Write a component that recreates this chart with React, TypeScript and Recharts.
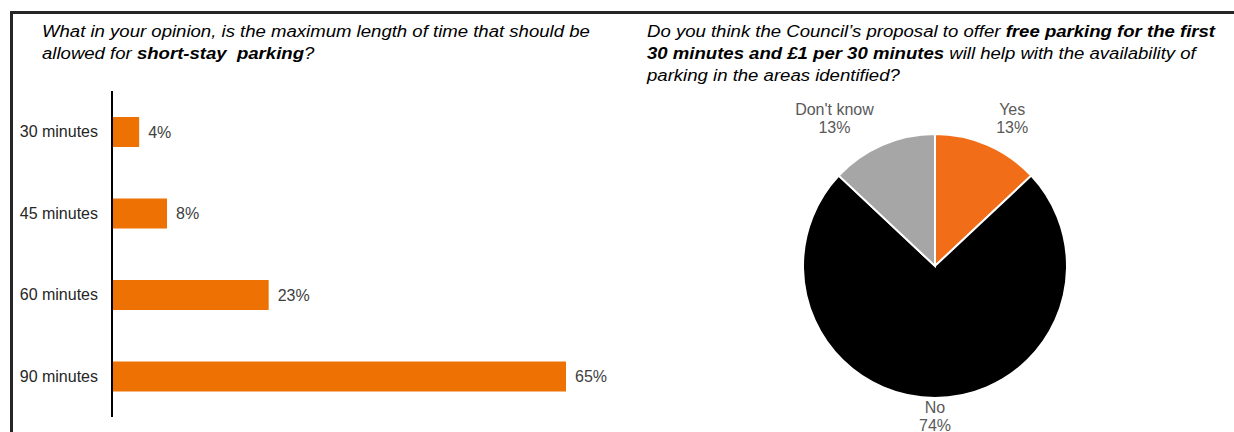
import React from 'react';
import { BarChart, Bar, XAxis, YAxis, LabelList, PieChart, Pie, Cell } from 'recharts';

const durationCategories = ['30 minutes', '45 minutes', '60 minutes', '90 minutes'];
const durationValues = [3.9, 7.9, 22.5, 65.2];
const durationLabels = ['4%', '8%', '23%', '65%'];

const answerCategories = ['Yes', 'No', "Don't know"];
const answerValues = [13, 74, 13];
const answerLabels = ['13%', '74%', '13%'];
const answerColors = ['#F26D17', '#000000', '#A6A6A6'];

const FONT = '"Liberation Sans", Arial, sans-serif';
const RADIAN = Math.PI / 180;

const barData = durationCategories.map((name, i) => ({
  name,
  value: durationValues[i],
  label: durationLabels[i],
}));

const pieData = answerCategories.map((name, i) => ({
  name,
  value: answerValues[i],
  label: answerLabels[i],
}));

let measureCtx: CanvasRenderingContext2D | null = null;
function measure(text: string): number {
  if (!measureCtx) {
    const c = document.createElement('canvas');
    measureCtx = c.getContext('2d');
  }
  if (!measureCtx) return text.length * 8.5;
  measureCtx.font = `16px ${FONT}`;
  return measureCtx.measureText(text).width;
}

function renderPieLabel(props: any) {
  const { cx, cy, midAngle, outerRadius, index } = props;
  const name = answerCategories[index];
  const pct = answerLabels[index];
  const dx = Math.cos(midAngle * RADIAN);
  const dy = -Math.sin(midAngle * RADIAN);
  const side = Math.abs(dx) > 0.2;
  const R = outerRadius + (side ? 12 : 3);
  const px = cx + R * dx;
  const py = cy + R * dy;
  const halfW = Math.max(measure(name), measure(pct)) / 2 + 4;
  const halfH = 15;
  const x = px + (dx > 0.2 ? halfW : dx < -0.2 ? -halfW : 0);
  const y = py + (dy < 0 ? -halfH : halfH);
  return (
    <text
      x={x}
      y={y}
      textAnchor="middle"
      fill="#595959"
      fontSize={16}
      fontFamily={FONT}
    >
      <tspan x={x} y={y - 9} dominantBaseline="central">{name}</tspan>
      <tspan x={x} y={y + 9} dominantBaseline="central">{pct}</tspan>
    </text>
  );
}

const titleStyle: React.CSSProperties = {
  position: 'absolute',
  top: 21,
  fontSize: 16,
  lineHeight: '22px',
  fontStyle: 'italic',
  color: '#000',
  whiteSpace: 'pre',
  transform: 'scaleX(1.16)',
  transformOrigin: 'left top',
};

export default function App() {
  return (
    <div
      style={{
        position: 'absolute',
        left: 0,
        top: 0,
        width: 1234,
        height: 432,
        background: '#fff',
        overflow: 'hidden',
        fontFamily: FONT,
      }}
    >
      {/* frame */}
      <div style={{ position: 'absolute', left: 10, top: 11, width: 1224, height: 3, background: '#262626' }} />
      <div style={{ position: 'absolute', left: 10, top: 11, width: 3, height: 421, background: '#262626' }} />

      {/* left title */}
      <div style={{ ...titleStyle, left: 42 }}>
        What in your opinion, is the maximum length of time that should be
        <br />
        allowed for <b>short-stay  parking</b>?
      </div>

      {/* right title */}
      <div style={{ ...titleStyle, left: 647 }}>
        Do you think the Council’s proposal to offer <b>free parking for the first</b>
        <br />
        <b>30 minutes and £1 per 30 minutes</b> will help with the availability of
        <br />
        parking in the areas identified?
      </div>

      {/* bar chart */}
      <div style={{ position: 'absolute', left: 0, top: 0 }}>
        <BarChart
          width={640}
          height={432}
          data={barData}
          layout="vertical"
          margin={{ top: 91, right: 74, bottom: 15, left: 12 }}
        >
          <XAxis type="number" hide domain={[0, 'dataMax']} />
          <YAxis
            type="category"
            dataKey="name"
            width={100}
            axisLine={{ stroke: '#000', strokeWidth: 2 }}
            tickLine={false}
            tick={{ fill: '#262626', fontSize: 16, fontFamily: FONT }}
            tickMargin={8}
          />
          <Bar dataKey="value" fill="#EE7203" barSize={30} isAnimationActive={false}>
            <LabelList
              dataKey="label"
              position="right"
              offset={9}
              fill="#404040"
              fontSize={16}
              fontFamily={FONT}
            />
          </Bar>
        </BarChart>
      </div>

      {/* pie chart */}
      <div style={{ position: 'absolute', left: 620, top: 0 }}>
        <PieChart width={614} height={432} margin={{ top: 0, right: 0, bottom: 0, left: 0 }}>
          <Pie
            data={pieData}
            dataKey="value"
            nameKey="name"
            cx={315}
            cy={266}
            outerRadius={132}
            startAngle={90}
            endAngle={-270}
            stroke="#ffffff"
            strokeWidth={2}
            label={renderPieLabel}
            labelLine={false}
            isAnimationActive={false}
          >
            {pieData.map((d, i) => (
              <Cell key={d.name} fill={answerColors[i]} />
            ))}
          </Pie>
        </PieChart>
      </div>
    </div>
  );
}
